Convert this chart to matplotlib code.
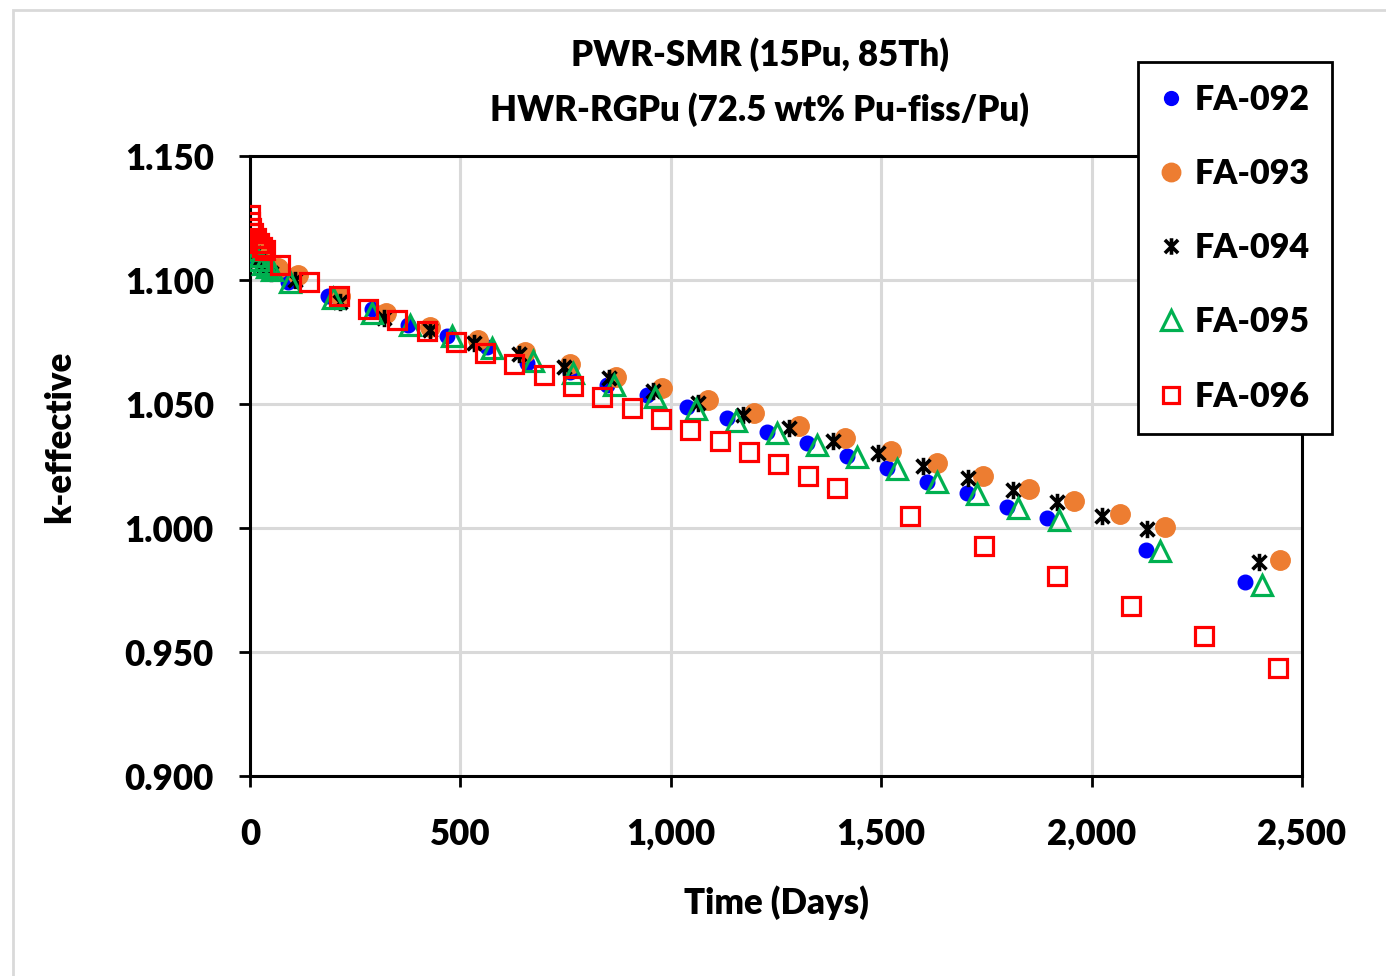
import matplotlib
matplotlib.use("Agg")
import matplotlib.pyplot as plt
from matplotlib.path import Path
from matplotlib.patches import Rectangle
from matplotlib.ticker import FuncFormatter, MultipleLocator

plt.rcParams["font.family"] = ["Lato", "DejaVu Sans"]
plt.rcParams["font.weight"] = "heavy"

# Données (jours, k-effective)
days_092 = [0, 5, 12, 25, 45, 90, 185, 290, 375, 468, 563, 658, 760, 848, 943, 1038, 1134,
            1229, 1324, 1419, 1514, 1609, 1704, 1799, 1894, 2129, 2365]
k_092 = [1.114, 1.111, 1.109, 1.107, 1.104, 1.099, 1.0935, 1.0883, 1.082, 1.0774, 1.073,
         1.0665, 1.0629, 1.0577, 1.0536, 1.0488, 1.0444, 1.0387, 1.0343, 1.029, 1.0242,
         1.0185, 1.0141, 1.0085, 1.004, 0.9911, 0.9782]

days_093 = [0, 10, 20, 35, 67, 114, 214, 323, 428, 542, 654, 760, 870, 979, 1088, 1198,
            1305, 1414, 1523, 1633, 1742, 1851, 1958, 2067, 2174, 2448]
k_093 = [1.116, 1.113, 1.111, 1.108, 1.105, 1.102, 1.0935, 1.0867, 1.081, 1.0758, 1.071,
         1.066, 1.061, 1.0565, 1.0516, 1.0464, 1.041, 1.0363, 1.031, 1.0262, 1.021, 1.0157,
         1.011, 1.0056, 1.0004, 0.987]

days_094 = [0, 10, 20, 30, 50, 107, 214, 318, 428, 532, 639, 746, 853, 958, 1065, 1172,
            1281, 1385, 1492, 1599, 1706, 1813, 1918, 2025, 2132, 2398]
k_094 = [1.114, 1.111, 1.108, 1.106, 1.103, 1.100, 1.0911, 1.0847, 1.0798, 1.0746, 1.0702,
         1.0649, 1.0605, 1.0552, 1.0504, 1.0456, 1.0403, 1.0351, 1.0302, 1.025, 1.0202,
         1.0153, 1.0105, 1.0048, 0.9996, 0.9863]

days_095 = [0, 5, 12, 20, 30, 40, 52, 95, 197, 290, 380, 480, 575, 673, 768, 865, 962, 1060,
            1155, 1252, 1347, 1442, 1538, 1633, 1728, 1825, 1923, 2163, 2405]
k_095 = [1.1149, 1.1121, 1.1097, 1.1081, 1.1065, 1.1052, 1.104, 1.0992, 1.0927, 1.0867,
         1.0819, 1.0774, 1.0726, 1.0673, 1.0625, 1.0577, 1.0528, 1.048, 1.0431, 1.0383,
         1.0335, 1.0286, 1.0238, 1.0185, 1.0137, 1.0081, 1.0032, 0.9907, 0.977]

days_096 = [0, 1, 3, 7, 14, 21, 28, 35, 71, 140, 212, 280, 349, 421, 490, 558, 627, 699, 768,
            837, 908, 977, 1046, 1117, 1186, 1255, 1326, 1395, 1568, 1744, 1918, 2094, 2267,
            2443]
k_096 = [1.1262, 1.1235, 1.121, 1.119, 1.1168, 1.115, 1.1135, 1.1122, 1.106, 1.0992, 1.0935,
         1.0883, 1.0839, 1.0794, 1.075, 1.0706, 1.0661, 1.0617, 1.0573, 1.0528, 1.0484,
         1.044, 1.0395, 1.0351, 1.0306, 1.0258, 1.021, 1.0161, 1.0048, 0.9927, 0.9806,
         0.9685, 0.9565, 0.9435]

labels = ["FA-092", "FA-093", "FA-094", "FA-095", "FA-096"]

# Marqueur étoile type Excel (X + trait vertical)
star_marker = Path([(-1, -1), (1, 1), (-1, 1), (1, -1), (0, -1.25), (0, 1.25)],
                   [Path.MOVETO, Path.LINETO, Path.MOVETO, Path.LINETO, Path.MOVETO, Path.LINETO])

fig = plt.figure(figsize=(13.86, 9.76), dpi=100)
fig.patches.append(Rectangle((13 / 1386, -0.1), 2, 1.1 - 10 / 976,
                             transform=fig.transFigure, fill=False, edgecolor="#d9d9d9",
                             linewidth=2))
ax = fig.add_axes([250 / 1386, 200 / 976, 1052 / 1386, 620 / 976])

ax.plot(days_092, k_092, "o", color="#0000ff", markersize=10.5, label=labels[0], zorder=3)
ax.plot(days_093, k_093, "o", color="#ed7d31", markersize=14, label=labels[1], zorder=3)
ax.plot(days_094, k_094, linestyle="none", marker=star_marker, color="black",
        markeredgecolor="black", markeredgewidth=2.6, markersize=12.5, label=labels[2], zorder=3)
ax.plot(days_095, k_095, "^", markerfacecolor="none", markeredgecolor="#00b050",
        markeredgewidth=2.3, markersize=15, label=labels[3], zorder=3)
ax.plot(days_096, k_096, "s", markerfacecolor="none", markeredgecolor="#ff0000",
        markeredgewidth=2.3, markersize=12.5, label=labels[4], zorder=3)

ax.set_xlim(0, 2500)
ax.set_ylim(0.9, 1.15)
ax.xaxis.set_major_locator(MultipleLocator(500))
ax.yaxis.set_major_locator(MultipleLocator(0.05))
ax.xaxis.set_major_formatter(FuncFormatter(lambda v, p: f"{v:,.0f}"))
ax.yaxis.set_major_formatter(FuncFormatter(lambda v, p: f"{v:.3f}"))
ax.grid(True, color="#d9d9d9", linewidth=2.2, zorder=0)
ax.set_axisbelow(True)
for s in ax.spines.values():
    s.set_linewidth(2.2)
    s.set_color("black")
ax.tick_params(direction="out", length=8, width=2, labelsize=25, pad=18, color="black")
ax.tick_params(axis="x", pad=22)

ax.set_xlabel("Time (Days)", fontsize=25, fontweight="heavy")
ax.set_ylabel("k-effective", fontsize=25, fontweight="heavy")
ax.xaxis.set_label_coords(0.5, -(903 - 776) / 620)
ax.yaxis.set_label_coords(-(250 - 60) / 1052, (776 - 437) / 620)
ax.xaxis.label.set_va("center")
ax.yaxis.label.set_va("center")

fig.text(760 / 1386, 1 - 55 / 976, "PWR-SMR (15Pu, 85Th)", fontsize=25, fontweight="heavy",
         ha="center", va="center")
fig.text(760 / 1386, 1 - 110 / 976, "HWR-RGPu (72.5 wt% Pu-fiss/Pu)", fontsize=25,
         fontweight="heavy", ha="center", va="center")

leg = ax.legend(loc="upper right", bbox_to_anchor=(1.0285, 1.1516), borderaxespad=0,
                fontsize=24.5, frameon=True, fancybox=False, framealpha=1, edgecolor="black",
                labelspacing=1.24, handlelength=0.7, handletextpad=0.35, borderpad=0.64,
                markerscale=0.95)
leg.get_frame().set_linewidth(2)
leg.set_zorder(10)

fig.savefig("out.png", dpi=100)
